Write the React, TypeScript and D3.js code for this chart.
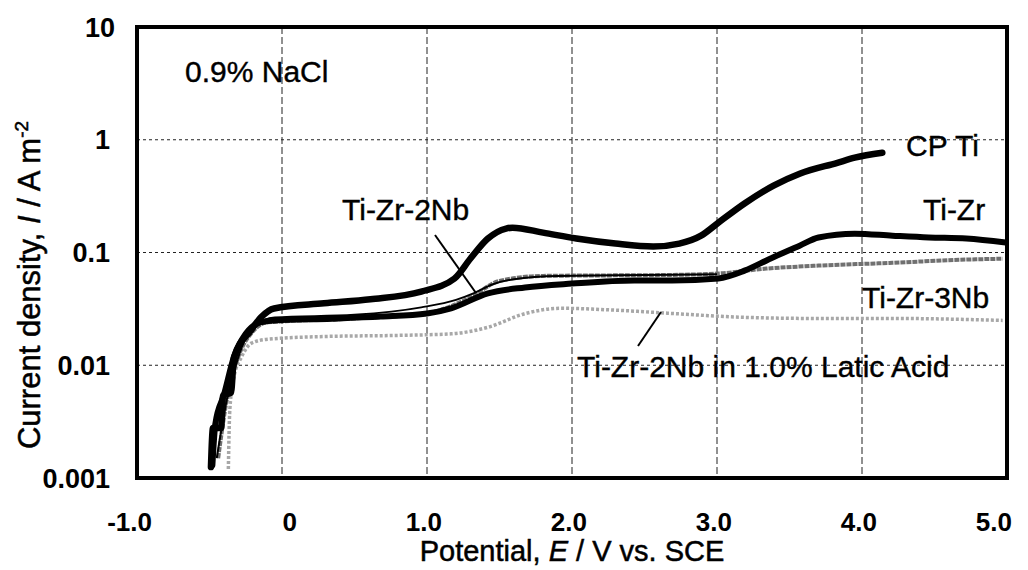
import React from "react";
import * as d3 from "d3";

// ---- data ----
const xTicks = [-1, 0, 1, 2, 3, 4, 5];
const xTickLabels = ["-1.0", "0", "1.0", "2.0", "3.0", "4.0", "5.0"];
const yTicks = [0.001, 0.01, 0.1, 1, 10];
const yTickLabels = ["0.001", "0.01", "0.1", "1", "10"];

const cpTiE = [-0.49, -0.476, -0.42, -0.407, -0.352, -0.331, -0.214, -0.145, -0.055, 0.29, 0.61, 0.96, 1.19, 1.3, 1.42, 1.545, 1.59, 1.8, 2.03, 2.3, 2.56, 2.74, 2.89, 3.01, 3.19, 3.39, 3.57, 3.83, 3.95, 4.14];
const cpTiI = [0.00125, 0.00277, 0.00277, 0.0054, 0.0057, 0.0118, 0.0204, 0.0266, 0.0319, 0.0354, 0.0385, 0.045, 0.0588, 0.0885, 0.133, 0.163, 0.166, 0.15, 0.133, 0.12, 0.113, 0.12, 0.141, 0.184, 0.272, 0.392, 0.5, 0.625, 0.693, 0.767];

const tiZrE = [-0.48, -0.46, -0.4, -0.33, -0.25, -0.15, -0.05, 0.34, 0.68, 1.0, 1.166, 1.42, 1.676, 2.0, 2.43, 2.69, 3.01, 3.19, 3.37, 3.57, 3.7, 3.95, 4.21, 4.46, 4.72, 4.99];
const tiZrI = [0.0013, 0.003, 0.0055, 0.012, 0.019, 0.024, 0.025, 0.0259, 0.027, 0.0288, 0.032, 0.0434, 0.049, 0.053, 0.0565, 0.0565, 0.0589, 0.069, 0.0885, 0.115, 0.136, 0.147, 0.141, 0.136, 0.133, 0.1225];

const tiZr2NbE = [-0.45, -0.38, -0.3, -0.2, -0.05, 0.5, 0.96, 1.2, 1.32, 1.45, 1.6, 1.9, 2.5, 3.0];
const tiZr2NbI = [0.0015, 0.005, 0.012, 0.022, 0.0265, 0.028, 0.0326, 0.038, 0.0434, 0.052, 0.058, 0.062, 0.063, 0.064];

const tiZr3NbE = [-0.44, -0.38, -0.3, -0.2, -0.1, 0.5, 1.0, 1.3, 1.5, 1.8, 2.2, 2.6, 3.0, 3.34, 3.7, 4.21, 4.72, 4.97];
const tiZr3NbI = [0.0015, 0.005, 0.012, 0.02, 0.024, 0.026, 0.029, 0.04, 0.056, 0.062, 0.0626, 0.063, 0.065, 0.072, 0.0765, 0.081, 0.0866, 0.088];

const laticE = [-0.37, -0.36, -0.33, -0.28, -0.21, -0.1, 0.3, 0.8, 1.166, 1.42, 1.68, 1.92, 2.3, 2.69, 3.19, 3.7, 4.21, 4.97];
const laticI = [0.0012, 0.004, 0.008, 0.0118, 0.0157, 0.017, 0.018, 0.0184, 0.019, 0.0217, 0.0288, 0.032, 0.0308, 0.0288, 0.0266, 0.026, 0.026, 0.025];

const FONT = "'Liberation Sans', Arial, Helvetica, sans-serif";

function zip(es: number[], is: number[]): [number, number][] {
  return es.map((e, k) => [e, is[k]]);
}

export default function App() {
  const W = 1028;
  const H = 570;
  const x = d3.scaleLinear().domain([-1, 5]).range([137, 1007]);
  const y = d3.scaleLog().domain([0.001, 10]).range([478, 27]);

  const gen = d3
    .line<[number, number]>()
    .x((d) => x(d[0]))
    .y((d) => y(d[1]))
    .curve(d3.curveMonotoneX);

  const x0 = x(-1), x1 = x(5), y0 = y(0.001), y1 = y(10);

  return (
    <svg
      width={W}
      height={H}
      viewBox={`0 0 ${W} ${H}`}
      style={{ position: "absolute", left: 0, top: 0, background: "#fff" }}
      fontFamily={FONT}
    >
      <rect x={0} y={0} width={W} height={H} fill="#fff" />
      {/* grid */}
      {xTicks.slice(1, -1).map((t) => (
        <line key={"gx" + t} x1={x(t)} x2={x(t)} y1={y1} y2={y0} stroke="#222" strokeWidth={1} strokeDasharray="7,3" />
      ))}
      {yTicks.slice(1, -1).map((t) => (
        <line key={"gy" + t} x1={x0} x2={x1} y1={y(t)} y2={y(t)} stroke="#222" strokeWidth={1} strokeDasharray="3,3" />
      ))}

      {/* series */}
      <path d={gen(zip(laticE, laticI)) || ""} fill="none" stroke="#a8a8a8" strokeWidth={3.5} strokeDasharray="3,2" />
      <path d={gen(zip(tiZr3NbE, tiZr3NbI)) || ""} fill="none" stroke="#707070" strokeWidth={4} strokeDasharray="5,1" />
      <path d={gen(zip(tiZr2NbE, tiZr2NbI)) || ""} fill="none" stroke="#000" strokeWidth={2} />
      <path d={gen(zip(tiZrE, tiZrI)) || ""} fill="none" stroke="#000" strokeWidth={6} strokeLinecap="round" />
      <path d={gen(zip(cpTiE, cpTiI)) || ""} fill="none" stroke="#000" strokeWidth={6.5} strokeLinecap="round" />

      {/* frame */}
      <rect x={x0} y={y1} width={x1 - x0} height={y0 - y1} fill="none" stroke="#000" strokeWidth={4} />

      {/* x tick labels */}
      {xTicks.map((t, k) => (
        <text
          key={"xt" + t}
          x={x(t) + (k === xTicks.length - 1 ? 5 : 15)}
          y={531}
          textAnchor="end"
          fontSize={26}
          fontWeight="bold"
          fill="#000"
        >
          {xTickLabels[k]}
        </text>
      ))}
      {/* y tick labels */}
      {yTicks.map((t, k) => (
        <text
          key={"yt" + t}
          x={t === 10 ? 115 : 110}
          y={y(t)}
          dy="0.36em"
          textAnchor="end"
          fontSize={27}
          fontWeight="bold"
          fill="#000"
        >
          {yTickLabels[k]}
        </text>
      ))}

      {/* axis titles */}
      <text x={572} y={561} textAnchor="middle" fontSize={29} fill="#000" stroke="#000" strokeWidth={0.5}>
        Potential, <tspan fontStyle="italic">E</tspan> / V vs. SCE
      </text>
      <text
        transform={`translate(40, 285) rotate(-90)`}
        textAnchor="middle"
        fontSize={31}
        fill="#000"
        stroke="#000"
        strokeWidth={0.5}
      >
        Current density, <tspan fontStyle="italic">I</tspan> / A m
        <tspan fontSize={19} dy={-12}>-2</tspan>
      </text>

      {/* annotations */}
      <g fontSize={30} fill="#000" stroke="#000" strokeWidth={0.4}>
        <text x={185} y={82}>0.9% NaCl</text>
        <text x={906} y={156}>CP Ti</text>
        <text x={923} y={220}>Ti-Zr</text>
        <text x={862} y={308}>Ti-Zr-3Nb</text>
        <text x={342} y={220}>Ti-Zr-2Nb</text>
        <text x={577} y={377}>Ti-Zr-2Nb in 1.0% Latic Acid</text>
      </g>
      <line x1={435} y1={235} x2={476} y2={293} stroke="#000" strokeWidth={2} />
      <line x1={661} y1={312} x2={638} y2={346} stroke="#000" strokeWidth={2} />
    </svg>
  );
}
